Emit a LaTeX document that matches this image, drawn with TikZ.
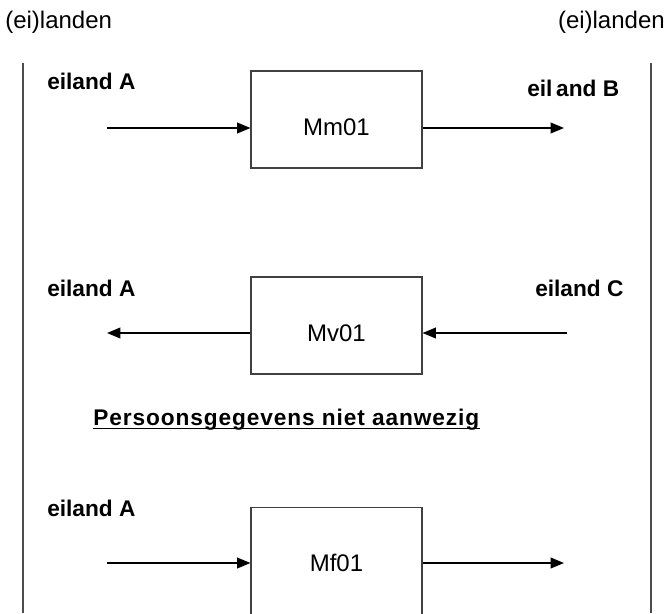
\documentclass[tikz,border=0pt]{standalone}
\usepackage{fontspec}
\setmainfont{Liberation Sans}
\usetikzlibrary{arrows.meta,positioning,calc}

\begin{document}
\begin{tikzpicture}[x=0.75pt, y=-0.75pt,
    box/.style={draw=black!75, line width=0.8pt, minimum width=128.25pt, minimum height=72.75pt,
        text height=24.25pt, text depth=0pt, inner sep=0pt, font=\fontsize{18}{20}\selectfont},
    side/.style={inner sep=0pt, font=\fontsize{18}{20}\selectfont},
    eiland/.style={anchor=west, inner sep=0pt, font=\bfseries\fontsize{17}{19}\selectfont},
    rim/.style={draw=black!70, line width=1.1pt},
    flow/.style={-{Triangle[length=10pt,width=8pt]}, line width=1.2pt}]
    \useasboundingbox (0,0) rectangle (666,613);
    \clip (0,0) rectangle (666,613);

    \node (landenL) [side, anchor=base west] at (5,29) {(ei)landen};
    \node (landenR) [side, anchor=base east] at (665,29) {(ei)landen};
    \draw [rim] (23,63) -- (23,613);
    \draw [rim] (651,63) -- (651,613);

    \node (mm) [box] at (336.5,119.5) {Mm01};
    \node (mv) [box] at (336.5,325.5) {Mv01};
    \node (mf) [box, minimum height=97pt, text height=0pt] at (336.5,571.7) {Mf01};

    \node (eilandA1) [eiland] at (47,81) {eiland A};
    \node (eilandB) [eiland] at (527,88) {eil\,and B};
    \node (eilandA2) [eiland] at (47,288) {eiland A};
    \node (eilandC) [eiland] at (535,288) {eiland C};
    \node (eilandA3) [eiland] at (47,508) {eiland A};

    \node (geen) [inner sep=0pt, anchor=base west,
        font=\bfseries\fontsize{17}{19}\selectfont\addfontfeature{LetterSpace=4}]
        at (93,425) {Persoonsgegevens niet aanwezig};
    \draw [line width=1.4pt] ([yshift=-2.6pt]geen.base west) -- ([yshift=-2.6pt]geen.base east);

    \coordinate (inMm) at (107,128);
    \coordinate (outMm) at (564,128);
    \coordinate (outMv) at (107,333);
    \coordinate (inMv) at (567,333);
    \coordinate (inMf) at (107,563);
    \coordinate (outMf) at (564,563);

    \draw [flow] (inMm) -- (inMm -| mm.west);
    \draw [flow] (outMm -| mm.east) -- (outMm);
    \draw [flow] (outMv -| mv.west) -- (outMv);
    \draw [flow] (inMv) -- (inMv -| mv.east);
    \draw [flow] (inMf) -- (inMf -| mf.west);
    \draw [flow] (outMf -| mf.east) -- (outMf);
\end{tikzpicture}
\end{document}
